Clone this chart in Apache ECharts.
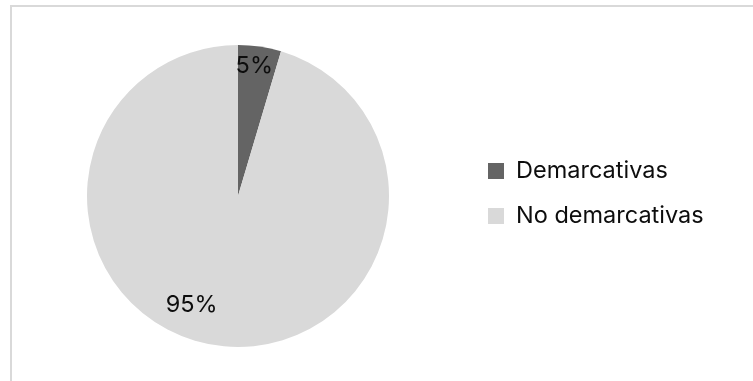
<!DOCTYPE html>
<html lang="es">
<head>
    <meta charset="UTF-8">
    <title>Demarcativas</title>
    <style>
        html, body { margin: 0; padding: 0; background: #fff; }
        #chartPie { width: 753px; height: 381px; }
    </style>
</head>
<body>
<div id="chartPie"></div>
<script src="https://cdn.jsdelivr.net/npm/echarts@6/dist/echarts.min.js"></script>
<script>
    var categories = ['Demarcativas', 'No demarcativas'];
    var values = [4.6, 95.4];
    var colors = ['#646464', '#d9d9d9'];

    // label nudges from the default "inside" spot, so they sit like in the original
    var labelShift = [[5, -52], [-35, 31]];

    var myChart = echarts.init(document.getElementById('chartPie'));
    var fontFam = 'Inter, "Liberation Sans", Arial, sans-serif';

    var option = {
        animation: false,
        color: colors,
        graphic: [{
            type: 'rect',
            shape: { x: 11, y: 6, width: 800, height: 420 },
            style: { fill: 'none', stroke: '#d9d9d9', lineWidth: 2 },
            silent: true
        }],
        legend: {
            orient: 'vertical',
            left: 488,
            top: 159,
            padding: 0,
            icon: 'rect',
            itemWidth: 16,
            itemHeight: 16,
            itemGap: 21,
            data: categories,
            textStyle: {
                fontFamily: fontFam,
                fontSize: 23.5,
                lineHeight: 24,
                color: '#0d0d0d',
                padding: [0, 0, 0, 7]
            }
        },
        series: [{
            type: 'pie',
            center: [238, 196],
            radius: 151,
            startAngle: 90,
            clockwise: true,
            silent: true,
            itemStyle: { borderWidth: 0 },
            label: {
                show: true,
                position: 'inside',
                formatter: function (p) {
                    return Math.round(p.percent) + '%';
                },
                fontFamily: fontFam,
                fontSize: 23.5,
                color: '#0d0d0d'
            },
            labelLine: { show: false },
            labelLayout: function (p) {
                var s = labelShift[p.dataIndex];
                return { dx: s[0], dy: s[1] };
            },
            data: categories.map(function (c, i) {
                return { name: c, value: values[i] };
            })
        }]
    };
    myChart.setOption(option);
</script>
</body>
</html>
